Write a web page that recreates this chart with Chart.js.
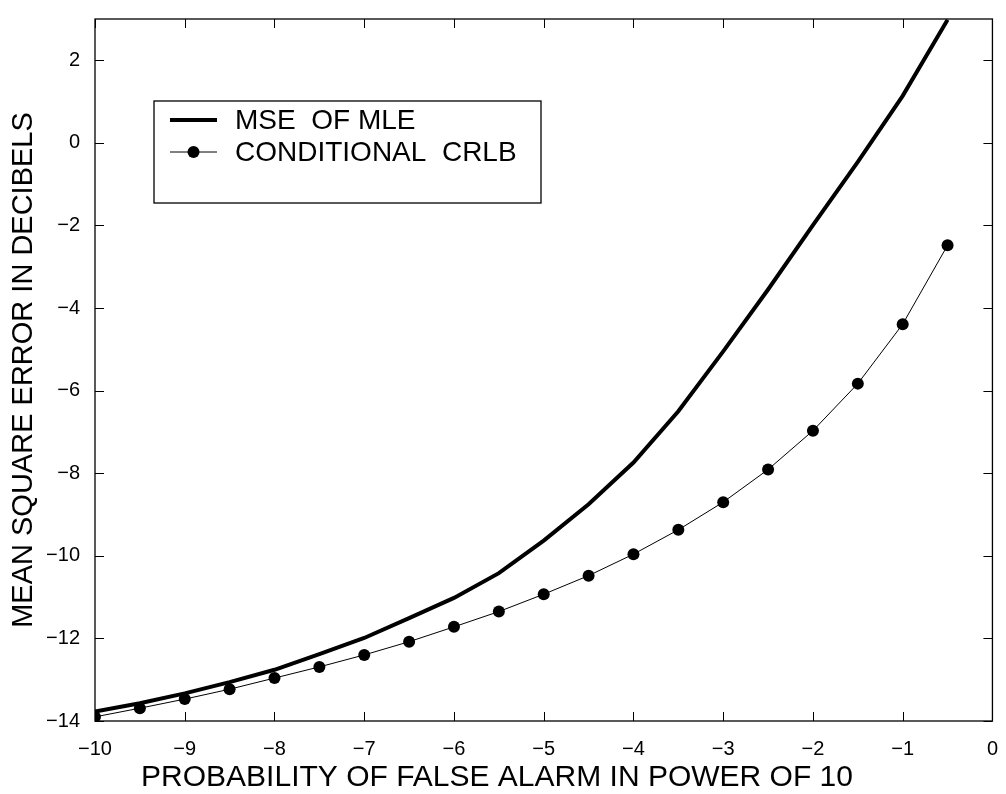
<!DOCTYPE html>
<html>
<head>
<meta charset="utf-8">
<script src="https://cdn.jsdelivr.net/npm/chart.js@4"></script>
<style>
  body { margin: 0; background: #fff; }
  #wrap { width: 1006px; height: 794px; }
</style>
</head>
<body>
<div id="wrap"><canvas id="chart" width="1006" height="794"></canvas></div>
<script>
// probability of false alarm, as power of 10
const pfaExp = [-10, -9.5, -9, -8.5, -8, -7.5, -7, -6.5, -6, -5.5, -5, -4.5, -4, -3.5, -3, -2.5, -2, -1.5, -1, -0.5];

// mean square error in dB
const mseMle = [-13.77, -13.57, -13.33, -13.06, -12.76, -12.38, -11.99, -11.51, -11.02, -10.42, -9.63, -8.75, -7.74, -6.5, -5.05, -3.55, -1.99, -0.46, 1.14, 2.98];
const crlb = [-13.9, -13.69, -13.47, -13.23, -12.96, -12.69, -12.4, -12.08, -11.72, -11.35, -10.93, -10.48, -9.96, -9.37, -8.7, -7.91, -6.97, -5.83, -4.39, -2.48];

const legendLabels = ["MSE  OF MLE", "CONDITIONAL  CRLB"];
const xTicks = [-10, -9, -8, -7, -6, -5, -4, -3, -2, -1, 0];
const yTicks = [-14, -12, -10, -8, -6, -4, -2, 0, 2];
const xTitle = "PROBABILITY OF FALSE ALARM IN POWER OF 10";
const yTitle = "MEAN SQUARE ERROR IN DECIBELS";

const fontFamily = "'Liberation Sans', Arial, Helvetica, sans-serif";

function minus(v) {
	return String(v).replace("-", "\u2212");
}

// box round the plot, inward ticks on all four sides (matlab style), titles and legend
const frameTicks = {
	id: "frameTicks",
	afterDraw(chart) {
		const ctx = chart.ctx;
		const a = chart.chartArea;
		const xs = chart.scales.x;
		const ys = chart.scales.y;
		const len = 9;
		ctx.save();
		ctx.strokeStyle = "#000";
		ctx.lineWidth = 1.3;
		ctx.strokeRect(a.left, a.top, a.right - a.left, a.bottom - a.top);
		ctx.lineWidth = 1;
		ctx.beginPath();
		xTicks.forEach(function (t) {
			let px = Math.round(xs.getPixelForValue(t)) + 0.5;
			ctx.moveTo(px, a.bottom);
			ctx.lineTo(px, a.bottom - len);
			ctx.moveTo(px, a.top);
			ctx.lineTo(px, a.top + len);
		});
		yTicks.forEach(function (t) {
			let py = Math.round(ys.getPixelForValue(t)) + 0.5;
			ctx.moveTo(a.left, py);
			ctx.lineTo(a.left + len, py);
			ctx.moveTo(a.right, py);
			ctx.lineTo(a.right - len, py);
		});
		ctx.stroke();

		// axis titles
		ctx.fillStyle = "#000";
		ctx.font = "30px " + fontFamily;
		ctx.textAlign = "center";
		ctx.textBaseline = "middle";
		ctx.fillText(xTitle, 497, 778);
		ctx.font = "29px " + fontFamily;
		ctx.save();
		ctx.translate(24, (a.top + a.bottom) / 2);
		ctx.rotate(-Math.PI / 2);
		ctx.fillText(yTitle, 0, 0);
		ctx.restore();

		// legend box
		const bx = 154, by = 101, bw = 387, bh = 102;
		ctx.fillStyle = "#fff";
		ctx.fillRect(bx, by, bw, bh);
		ctx.lineWidth = 1.3;
		ctx.strokeRect(bx, by, bw, bh);
		const rows = [120, 152];
		chart.data.datasets.forEach(function (ds, i) {
			let y = rows[i];
			ctx.strokeStyle = ds.borderColor;
			ctx.lineWidth = ds.borderWidth;
			ctx.beginPath();
			ctx.moveTo(170, y);
			ctx.lineTo(217, y);
			ctx.stroke();
			if (ds.pointRadius > 0) {
				ctx.fillStyle = ds.pointBackgroundColor;
				ctx.beginPath();
				ctx.arc(193.5, y, ds.pointRadius, 0, Math.PI * 2);
				ctx.fill();
			}
			ctx.fillStyle = "#000";
			ctx.font = "28px " + fontFamily;
			ctx.textBaseline = "middle";
			ctx.textAlign = "left";
			ctx.fillText(ds.label, 235, y + 1);
		});
		ctx.restore();
	},
};

const data = {
	datasets: [
		{
			label: legendLabels[0],
			data: pfaExp.map((x, i) => ({ x: x, y: mseMle[i] })),
			borderColor: "#000",
			borderWidth: 4,
			pointRadius: 0,
			tension: 0,
		},
		{
			label: legendLabels[1],
			data: pfaExp.map((x, i) => ({ x: x, y: crlb[i] })),
			borderColor: "#000",
			borderWidth: 1,
			pointRadius: 6,
			pointBackgroundColor: "#000",
			pointBorderWidth: 0,
			tension: 0,
		},
	],
};

const chartConfig = {
	type: "line",
	data: data,
	options: {
		responsive: false,
		devicePixelRatio: 1,
		animation: false,
		layout: { padding: { top: 9, right: 7, bottom: 0, left: 0 } },
		plugins: {
			legend: { display: false },
			tooltip: { enabled: false },
		},
		scales: {
			x: {
				type: "linear",
				min: -10,
				max: 0,
				afterFit: function (scale) { scale.height = 73; },
				afterBuildTicks: function (scale) { scale.ticks = xTicks.map(v => ({ value: v })); },
				grid: { display: false },
				border: { display: false },
				ticks: {
					color: "#000",
					padding: 8,
					maxRotation: 0,
					font: { family: fontFamily, size: 20 },
					callback: v => minus(v),
				},
			},
			y: {
				type: "linear",
				min: -14,
				max: 3,
				afterFit: function (scale) { scale.width = 95; },
				afterBuildTicks: function (scale) { scale.ticks = yTicks.map(v => ({ value: v })); },
				grid: { display: false },
				border: { display: false },
				ticks: {
					color: "#000",
					padding: 7,
					font: { family: fontFamily, size: 20 },
					callback: v => minus(v),
				},
			},
		},
	},
	plugins: [frameTicks],
};

let mseChart = new Chart(document.getElementById("chart"), chartConfig);
</script>
</body>
</html>
